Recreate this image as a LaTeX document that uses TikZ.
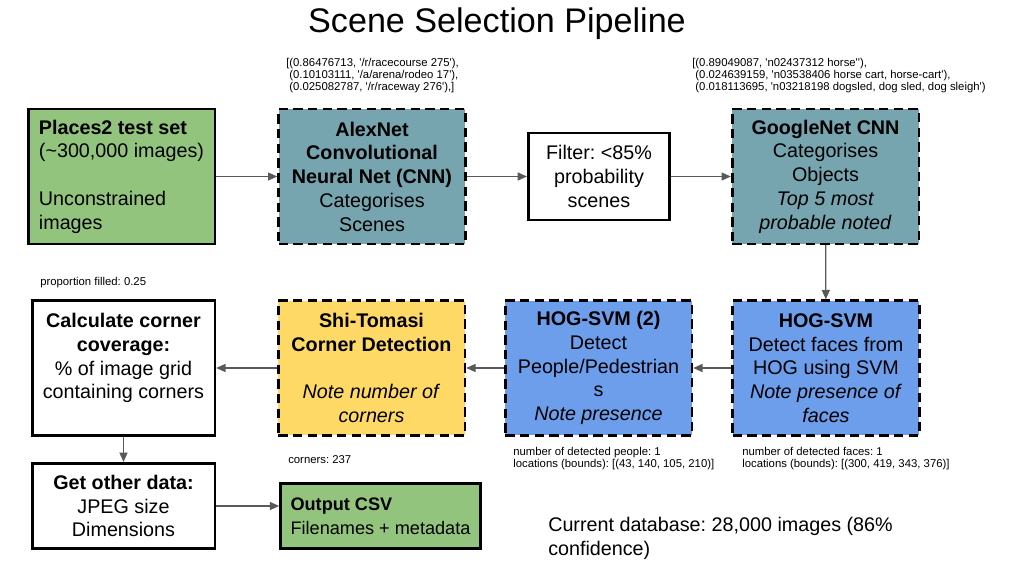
\documentclass[tikz,border=0pt]{standalone}
\usepackage{fontspec}
\setmainfont{Liberation Sans}
\newfontfamily\notefont{Liberation Sans}[Ligatures=TeXOff]
\usetikzlibrary{arrows.meta, positioning}
\definecolor{scgreen}{HTML}{93C47D}
\definecolor{scteal}{HTML}{76A5AF}
\definecolor{scblue}{HTML}{6D9EEB}
\definecolor{scyellow}{HTML}{FFD966}
\definecolor{scgray}{HTML}{595959}
\newcommand{\boxfont}{\fontsize{14.8}{17.8}\selectfont}
\newcommand{\notesize}{\notefont\fontsize{8.5}{9}\selectfont}
\frenchspacing

\begin{document}
\begin{tikzpicture}[
  x=0.75pt, y=-0.75pt,
  every node/.style={font=\boxfont},
  solidbox/.style={rectangle, draw=black, line width=2pt, minimum width=140pt, minimum height=101pt, align=center, inner sep=0pt},
  dashbox/.style={solidbox, dash pattern=on 7pt off 4pt},
  note/.style={font=\notesize, align=left, inner sep=0pt},
  flow/.style={-{Triangle[length=7pt, width=6pt]}, draw=scgray, line width=0.9pt},
]
\useasboundingbox (0,0) rectangle (1023,574);

\node (title) at (497,24) {\fontsize{25.6}{30}\selectfont Scene Selection Pipeline};

% Top row: scene and object classification
\node[solidbox, fill=scgreen, align=left] (places) at (121.5,176.5) {\textbf{Places2 test set}\\(\textasciitilde300,000 images)\\[17.8pt]Unconstrained\\images};
\node[dashbox, fill=scteal] (alexnet) at (372,176.5) {\textbf{AlexNet}\\\textbf{Convolutional}\\\textbf{Neural Net (CNN)}\\Categorises\\Scenes};
\node[solidbox, fill=white, minimum width=106pt, minimum height=65pt] (filter) at (599,176.5) {Filter: <85\%\\probability\\scenes};
\node[dashbox, fill=scteal] (googlenet) at (825.5,176.5) {\textbf{GoogleNet CNN}\\Categorises\\Objects\\\textit{Top 5 most}\\\textit{probable noted}};

\node[note, anchor=north west] (scenenote) at (286,58) {[(0.86476713, '/r/racecourse 275'),\\\ (0.10103111, '/a/arena/rodeo 17'),\\\ (0.025082787, '/r/raceway 276'),]};
\node[note, anchor=north west] (objectnote) at (692,58) {[(0.89049087, 'n02437312 horse''),\\\ (0.024639159, 'n03538406 horse cart, horse-cart'),\\\ (0.018113695, 'n03218198 dogsled, dog sled, dog sleigh')};

% Middle row: detectors, right to left
\node[dashbox, fill=scblue] (hogface) at (826,368) {\textbf{HOG-SVM}\\Detect faces from\\HOG using SVM\\\textit{Note presence of}\\\textit{faces}};
\node[dashbox, fill=scblue] (hogpeople) at (598.5,368) {\textbf{HOG-SVM (2)}\\Detect\\People/Pedestrian\\s\\\textit{Note presence}};
\node[dashbox, fill=scyellow] (shitomasi) at (371.5,368) {\textbf{Shi-Tomasi}\\\textbf{Corner Detection}\\[17.8pt]\textit{Note number of}\\\textit{corners}};
\node[solidbox, fill=white, minimum width=137pt] (coverage) at (123.5,368) {\textbf{Calculate corner}\\\textbf{coverage:}\\\% of image grid\\containing corners\\\mbox{}};

\node[note, anchor=west] (proportion) at (40,283) {proportion filled: 0.25};
\node[note, anchor=west] (corners) at (288,460) {corners: 237};
\node[note, anchor=north west] (peoplenote) at (513,447) {number of detected people: 1\\locations (bounds): [(43, 140, 105, 210)]};
\node[note, anchor=north west] (facenote) at (742,447) {number of detected faces: 1\\locations (bounds): [(300, 419, 343, 376)]};

% Bottom row: output
\node[solidbox, fill=white, minimum width=137pt, minimum height=64pt] (otherdata) at (123.5,506) {\textbf{Get other data:}\\JPEG size\\Dimensions};
\node[solidbox, fill=scgreen, align=left, minimum width=150pt, minimum height=49pt, font=\fontsize{13.6}{17.8}\selectfont] (csv) at (380.5,516) {\textbf{Output CSV}\\Filenames + metadata};
\node[anchor=north west, align=left, inner sep=0pt] (database) at (548,517) {Current database: 28,000 images (86\%\\confidence)};

\draw[flow] (places) -- (alexnet);
\draw[flow] (alexnet) -- (filter);
\draw[flow] (filter) -- (googlenet);
\draw[flow] (googlenet) -- (hogface);
\draw[flow] (hogface) -- (hogpeople);
\draw[flow] (hogpeople) -- (shitomasi);
\draw[flow] (shitomasi) -- (coverage);
\draw[flow] (coverage) -- (otherdata);
\draw[flow] (otherdata.east) -- (otherdata.east -| csv.west);

\end{tikzpicture}
\end{document}
